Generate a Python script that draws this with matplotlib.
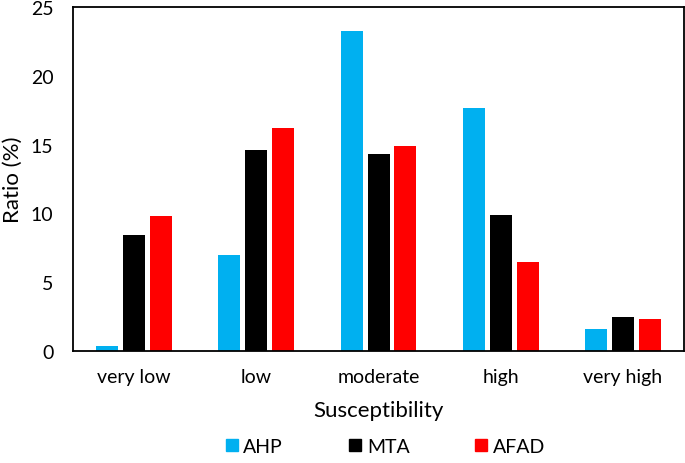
import matplotlib.pyplot as plt
import numpy as np
from matplotlib.lines import Line2D

plt.rcParams['font.family'] = ['Lato', 'DejaVu Sans']

categories = ["very low", "low", "moderate", "high", "very high"]
ahp = [0.35, 7.0, 23.25, 17.65, 1.6]
mta = [8.4, 14.6, 14.3, 9.9, 2.5]
afad = [9.8, 16.2, 14.9, 6.5, 2.3]
series_names = ["AHP", "MTA", "AFAD"]
colors = ["#00B0F0", "#000000", "#FF0000"]

fig = plt.figure(figsize=(6.85, 4.64), dpi=100)
ax = fig.add_axes([0.1066, 0.2414, 0.8920, 0.7414])

x = np.arange(len(categories))
width = 0.18
step = 0.22
for i, (vals, c) in enumerate(zip([ahp, mta, afad], colors)):
    ax.bar(x + (i - 1) * step, vals, width, color=c, label=series_names[i])

ax.set_xlim(-0.5, len(categories) - 0.5)
ax.set_ylim(0, 25)
ax.set_yticks([0, 5, 10, 15, 20, 25])
ax.set_xticks(x)
ax.set_xticklabels(categories)
ax.tick_params(axis='both', length=0, labelsize=14)
ax.tick_params(axis='y', pad=14)
ax.tick_params(axis='x', pad=12)
for s in ax.spines.values():
    s.set_linewidth(1.3)

ax.set_ylabel("Ratio (%)", fontsize=16, labelpad=6)
ax.set_xlabel("Susceptibility", fontsize=16, labelpad=11)

handles = [Line2D([], [], marker='s', linestyle='none', markersize=8,
                  markerfacecolor=c, markeredgecolor=c) for c in colors]
fig.legend(handles, series_names, loc='lower center', ncol=3, frameon=False,
           fontsize=14, bbox_to_anchor=(0.563, -0.02), handlelength=0.6,
           handletextpad=0.3, columnspacing=3.4)

fig.savefig("out.png", dpi=100)
